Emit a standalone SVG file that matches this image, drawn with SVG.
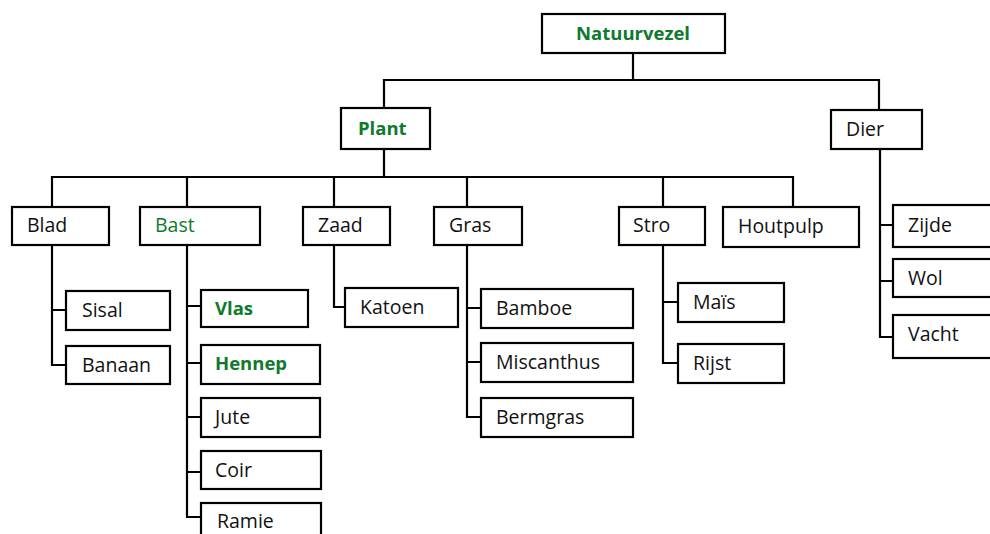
<svg xmlns="http://www.w3.org/2000/svg" width="990" height="534" viewBox="0 0 990 534">
  <style>
    .box { fill: #ffffff; stroke: #000000; stroke-width: 2.2; }
    .lbl { font-family: "Open Sans", "Noto Sans", "DejaVu Sans", sans-serif; font-size: 19.5px; fill: #111111; }
    .green { fill: #0e7a2c; }
    .bold { font-weight: bold; font-size: 18.5px; }
    .conn { fill: none; stroke: #000000; stroke-width: 2.2; stroke-linecap: square; }
  </style>
  <rect width="990" height="534" fill="#ffffff"/>

  <g id="connectors">
    <!-- root level -->
    <path class="conn" d="M633 53 V80 M384 80 H879 M384 80 V108 M879 80 V110"/>
    <!-- Plant to categories -->
    <path class="conn" d="M384 149 V177 M52 177 H793 M52 177 V207 M187 177 V207 M334 177 V207 M467 177 V207 M663 177 V207 M793 177 V207"/>
    <!-- Blad -->
    <path class="conn" d="M52 245 V365 H66 M52 310 H66"/>
    <!-- Bast -->
    <path class="conn" d="M187 245 V517 H201 M187 306 H201 M187 363 H201 M187 417 H201 M187 472 H201"/>
    <!-- Zaad -->
    <path class="conn" d="M334 245 V307 H345"/>
    <!-- Gras -->
    <path class="conn" d="M467 245 V417 H481 M467 308 H481 M467 362 H481"/>
    <!-- Stro -->
    <path class="conn" d="M663 245 V363 H678 M663 302 H678"/>
    <!-- Dier -->
    <path class="conn" d="M880 149 V337 H893 M880 225 H893 M880 281 H893"/>
  </g>

  <g id="natuurvezel"><rect class="box" x="542" y="14" width="183" height="39"/><text class="lbl green bold" x="576" y="40">Natuurvezel</text></g>
  <g id="plant"><rect class="box" x="341" y="108" width="89" height="41"/><text class="lbl green bold" x="358" y="135">Plant</text></g>
  <g id="dier"><rect class="box" x="831" y="110" width="91" height="39"/><text class="lbl" x="846" y="136">Dier</text></g>

  <g id="blad"><rect class="box" x="12" y="207" width="97" height="38"/><text class="lbl" x="27" y="232">Blad</text></g>
  <g id="bast"><rect class="box" x="140" y="207" width="120" height="38"/><text class="lbl green" x="155" y="232">Bast</text></g>
  <g id="zaad"><rect class="box" x="303" y="207" width="87" height="38"/><text class="lbl" x="318" y="232">Zaad</text></g>
  <g id="gras"><rect class="box" x="434" y="207" width="88" height="38"/><text class="lbl" x="449" y="232">Gras</text></g>
  <g id="stro"><rect class="box" x="619" y="207" width="86" height="38"/><text class="lbl" x="633" y="232">Stro</text></g>
  <g id="houtpulp"><rect class="box" x="723" y="207" width="136" height="40"/><text class="lbl" x="738" y="233">Houtpulp</text></g>

  <g id="sisal"><rect class="box" x="66" y="291" width="104" height="39"/><text class="lbl" x="82" y="317">Sisal</text></g>
  <g id="banaan"><rect class="box" x="66" y="346" width="104" height="38"/><text class="lbl" x="82" y="372">Banaan</text></g>

  <g id="vlas"><rect class="box" x="201" y="290" width="107" height="37"/><text class="lbl green bold" x="215" y="315">Vlas</text></g>
  <g id="hennep"><rect class="box" x="201" y="345" width="119" height="39"/><text class="lbl green bold" x="215" y="370">Hennep</text></g>
  <g id="jute"><rect class="box" x="201" y="398" width="119" height="39"/><text class="lbl" x="215" y="424">Jute</text></g>
  <g id="coir"><rect class="box" x="201" y="451" width="120" height="38"/><text class="lbl" x="215" y="477">Coir</text></g>
  <g id="ramie"><rect class="box" x="201" y="503" width="120" height="40"/><text class="lbl" x="217" y="528">Ramie</text></g>

  <g id="katoen"><rect class="box" x="345" y="288" width="113" height="39"/><text class="lbl" x="360" y="314">Katoen</text></g>

  <g id="bamboe"><rect class="box" x="481" y="289" width="152" height="39"/><text class="lbl" x="496" y="315">Bamboe</text></g>
  <g id="miscanthus"><rect class="box" x="481" y="343" width="152" height="39"/><text class="lbl" x="496" y="369">Miscanthus</text></g>
  <g id="bermgras"><rect class="box" x="481" y="398" width="152" height="39"/><text class="lbl" x="496" y="424">Bermgras</text></g>

  <g id="mais"><rect class="box" x="678" y="283" width="106" height="39"/><text class="lbl" x="693" y="309">Maïs</text></g>
  <g id="rijst"><rect class="box" x="678" y="344" width="106" height="39"/><text class="lbl" x="693" y="370">Rijst</text></g>

  <g id="zijde"><rect class="box" x="893" y="205" width="105" height="42"/><text class="lbl" x="908" y="232">Zijde</text></g>
  <g id="wol"><rect class="box" x="893" y="259" width="105" height="38"/><text class="lbl" x="908" y="285">Wol</text></g>
  <g id="vacht"><rect class="box" x="893" y="315" width="105" height="43"/><text class="lbl" x="908" y="341">Vacht</text></g>
</svg>
